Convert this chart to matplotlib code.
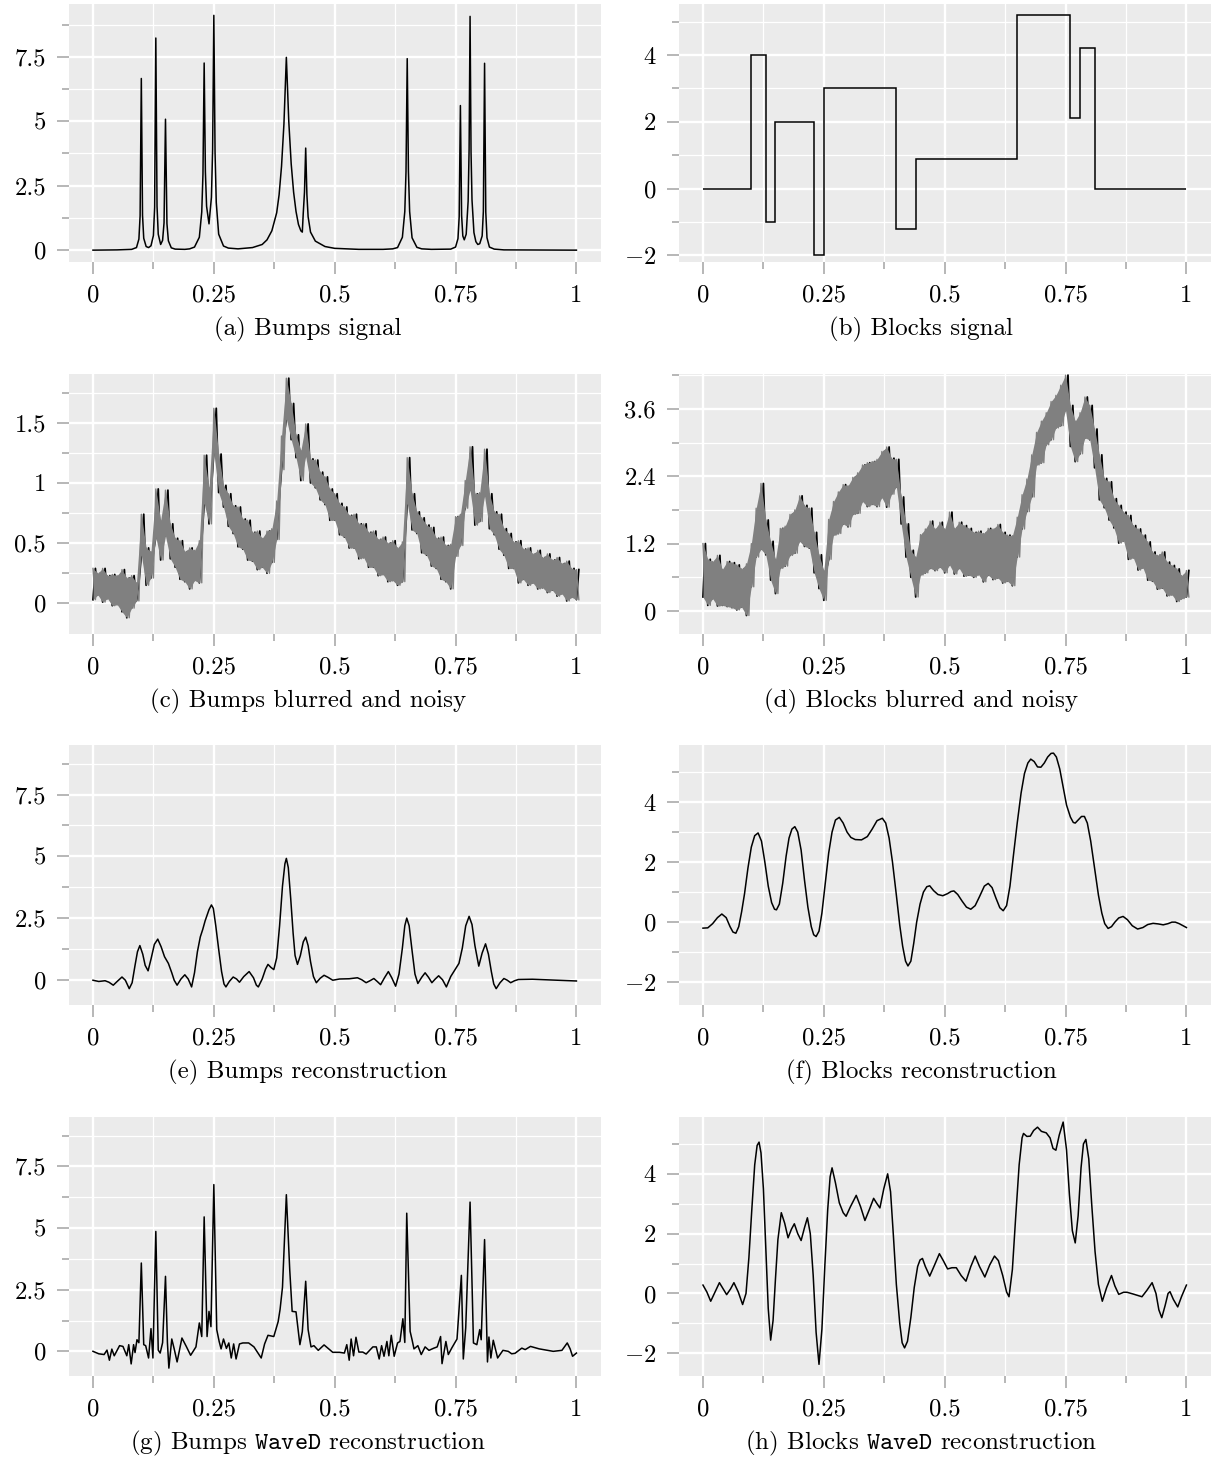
import numpy as np
import matplotlib
matplotlib.use('Agg')
import matplotlib.pyplot as plt

plt.rcParams['font.family'] = 'cmr10'
plt.rcParams['mathtext.fontset'] = 'cm'
plt.rcParams['axes.unicode_minus'] = False

# ---- (a) Bumps signal
a_x = [0.0, 0.05, 0.08, 0.09, 0.095, 0.0975, 0.1, 0.1025, 0.105, 0.11, 0.115, 0.12, 0.125, 0.1275,
       0.13, 0.1325, 0.135, 0.14, 0.144, 0.147, 0.15, 0.153, 0.156, 0.162, 0.17, 0.19, 0.2, 0.21,
       0.22, 0.225, 0.2275, 0.23, 0.2325, 0.235, 0.24, 0.245, 0.2475, 0.25, 0.2525, 0.255, 0.26,
       0.27, 0.28, 0.3, 0.33, 0.35, 0.36, 0.37, 0.38, 0.385, 0.39, 0.395, 0.4, 0.405, 0.41, 0.415,
       0.42, 0.425, 0.43, 0.433, 0.435, 0.4375, 0.44, 0.4425, 0.445, 0.45, 0.46, 0.48, 0.5, 0.55,
       0.6, 0.62, 0.63, 0.64, 0.645, 0.6475, 0.65, 0.6525, 0.655, 0.66, 0.67, 0.68, 0.7, 0.74, 0.75,
       0.755, 0.7575, 0.76, 0.7625, 0.765, 0.768, 0.772, 0.776, 0.778, 0.78, 0.782, 0.784, 0.788,
       0.792, 0.796, 0.8, 0.805, 0.8075, 0.81, 0.8125, 0.815, 0.82, 0.83, 0.85, 1.0]
a_y = [0.0, 0.01, 0.03, 0.1, 0.43, 1.33, 6.66, 1.35, 0.46, 0.14, 0.1, 0.17, 0.57, 1.66,
       8.23, 1.7, 0.62, 0.22, 0.38, 1.06, 5.08, 1.03, 0.36, 0.09, 0.04, 0.03, 0.05, 0.12,
       0.5, 1.48, 2.95, 7.26, 3.05, 1.7, 1.02, 2.05, 3.9, 9.11, 3.8, 1.85, 0.62,
       0.16, 0.08, 0.05, 0.1, 0.22, 0.4, 0.75, 1.45, 2.15, 3.25, 4.9, 7.48, 5.0, 3.35, 2.25,
       1.5, 1.0, 0.75, 0.7, 1.45, 2.25, 3.96, 2.15, 1.3, 0.7, 0.35, 0.14, 0.07, 0.03,
       0.03, 0.05, 0.1, 0.5, 1.5, 3.05, 7.43, 3.05, 1.5, 0.48, 0.11, 0.05, 0.03, 0.04, 0.12,
       0.45, 1.3, 5.61, 1.35, 0.55, 0.4, 0.62, 1.9, 3.9, 9.07, 3.8, 1.95, 0.68,
       0.33, 0.22, 0.25, 0.55, 1.5, 7.25, 1.47, 0.48, 0.12, 0.04, 0.01, 0.0]

# ---- (b) Blocks signal
b_edges = [0.0, 0.1, 0.13, 0.15, 0.23, 0.25, 0.4, 0.44, 0.65, 0.76, 0.78, 0.81, 1.0]
b_levels = [0.0, 4.0, -1.0, 2.0, -2.0, 3.0, -1.2, 0.9, 5.2, 2.1, 4.2, 0.0]

# ---- (c) Bumps blurred and noisy: band (x step 0.01)
c_lo = [0.03, 0.07, 0.01, 0.04, -0.02, -0.01, -0.07, -0.12, -0.04, 0.02,
        0.40, 0.15, 0.21, 0.55, 0.36, 0.56, 0.37, 0.30, 0.20, 0.18,
        0.12, 0.19, 0.17, 0.83, 0.66, 1.25, 0.92, 0.80, 0.64, 0.58,
        0.47, 0.45, 0.36, 0.35, 0.28, 0.30, 0.25, 0.34, 0.53, 1.11,
        1.53, 1.36, 1.21, 1.02, 1.22, 1.00, 0.96, 0.86, 0.82, 0.69,
        0.69, 0.57, 0.55, 0.46, 0.46, 0.37, 0.38, 0.30, 0.30, 0.23,
        0.24, 0.18, 0.19, 0.15, 0.18, 0.83, 0.61, 0.58, 0.42, 0.40,
        0.31, 0.29, 0.20, 0.18, 0.12, 0.39, 0.48, 0.79, 0.94, 0.65,
        0.68, 0.89, 0.62, 0.57, 0.45, 0.40, 0.29, 0.29, 0.17, 0.20,
        0.15, 0.17, 0.12, 0.13, 0.09, 0.11, 0.06, 0.08, 0.02, 0.05, 0.03]
c_hi = [0.29, 0.25, 0.29, 0.23, 0.24, 0.23, 0.28, 0.21, 0.23, 0.17,
        0.74, 0.46, 0.43, 0.95, 0.69, 0.94, 0.66, 0.54, 0.52, 0.43,
        0.46, 0.44, 0.52, 1.23, 0.96, 1.62, 1.24, 0.98, 0.91, 0.81,
        0.80, 0.70, 0.69, 0.59, 0.60, 0.54, 0.60, 0.62, 0.85, 1.39,
        1.87, 1.66, 1.40, 1.27, 1.49, 1.20, 1.19, 1.09, 1.05, 0.95,
        0.91, 0.83, 0.80, 0.73, 0.74, 0.66, 0.66, 0.59, 0.60, 0.53,
        0.55, 0.50, 0.52, 0.46, 0.51, 1.21, 0.91, 0.76, 0.71, 0.65,
        0.63, 0.54, 0.55, 0.48, 0.49, 0.72, 0.74, 1.02, 1.30, 0.91,
        0.92, 1.28, 0.91, 0.76, 0.74, 0.62, 0.58, 0.51, 0.52, 0.45,
        0.46, 0.41, 0.44, 0.38, 0.41, 0.36, 0.38, 0.33, 0.35, 0.29, 0.28]

# ---- (d) Blocks blurred and noisy (x step 0.01)
d_lo = [0.25, 0.10, 0.22, 0.09, 0.10, 0.08, 0.06, 0.02, 0.07, -0.08,
        0.43, 0.96, 1.10, 1.00, 0.55, 0.31, 0.76, 0.80, 0.99, 1.03,
        1.24, 1.15, 1.12, 0.68, 0.40, 0.19, 0.92, 1.35, 1.38, 1.55,
        1.50, 1.72, 1.74, 1.95, 1.86, 1.90, 1.86, 2.02, 1.85, 2.08,
        2.21, 1.55, 0.96, 0.60, 0.25, 0.64, 0.68, 0.76, 0.72, 0.78,
        0.68, 0.82, 0.66, 0.76, 0.62, 0.64, 0.60, 0.65, 0.52, 0.64,
        0.56, 0.59, 0.50, 0.53, 0.45, 0.96, 1.46, 1.77, 2.03, 2.60,
        2.64, 2.96, 3.05, 3.26, 3.30, 3.57, 2.93, 2.66, 2.80, 3.08,
        3.05, 2.55, 1.98, 1.84, 1.62, 1.48, 1.21, 1.25, 0.92, 0.95,
        0.73, 0.77, 0.55, 0.53, 0.39, 0.41, 0.27, 0.29, 0.17, 0.22, 0.25]
d_hi = [1.20, 0.92, 0.88, 0.99, 0.74, 0.88, 0.86, 0.82, 0.75, 0.84,
        1.20, 1.83, 2.27, 1.62, 1.24, 0.92, 1.47, 1.51, 1.72, 1.80,
        2.05, 1.88, 1.83, 1.40, 1.00, 0.72, 1.63, 1.95, 2.12, 2.25,
        2.23, 2.38, 2.46, 2.60, 2.64, 2.66, 2.70, 2.84, 2.92, 2.72,
        2.70, 2.03, 1.55, 1.08, 0.96, 1.36, 1.46, 1.60, 1.46, 1.58,
        1.46, 1.76, 1.47, 1.58, 1.52, 1.47, 1.40, 1.42, 1.38, 1.47,
        1.46, 1.54, 1.40, 1.35, 1.34, 1.67, 2.07, 2.35, 2.78, 3.18,
        3.38, 3.53, 3.73, 3.84, 4.02, 4.20, 3.66, 3.38, 3.53, 3.81,
        3.66, 3.24, 2.78, 2.36, 2.30, 2.00, 1.88, 1.76, 1.70, 1.52,
        1.46, 1.35, 1.23, 1.05, 0.99, 1.05, 0.87, 0.81, 0.75, 0.63, 0.72]

# ---- (e) Bumps reconstruction
e_x = [0.0, 0.012, 0.025, 0.033, 0.042, 0.05, 0.06, 0.067, 0.075, 0.081, 0.087, 0.092, 0.097,
       0.103, 0.108, 0.114, 0.12, 0.127, 0.134, 0.141, 0.148, 0.156, 0.163, 0.168, 0.174, 0.182,
       0.19, 0.197, 0.204, 0.21, 0.216, 0.222, 0.227, 0.232, 0.24, 0.245, 0.249, 0.254, 0.26,
       0.266, 0.271, 0.275, 0.282, 0.29, 0.297, 0.303, 0.312, 0.323, 0.332, 0.338, 0.342, 0.35,
       0.357, 0.362, 0.368, 0.374, 0.38, 0.386, 0.392, 0.397, 0.4, 0.404, 0.409, 0.414, 0.418,
       0.423, 0.429, 0.435, 0.44, 0.445, 0.45, 0.456, 0.462, 0.47, 0.478, 0.486, 0.496, 0.51,
       0.53, 0.547, 0.556, 0.565, 0.573, 0.581, 0.588, 0.595, 0.603, 0.611, 0.618, 0.626, 0.633,
       0.64, 0.645, 0.649, 0.654, 0.66, 0.666, 0.672, 0.68, 0.687, 0.694, 0.701, 0.708, 0.715,
       0.723, 0.731, 0.74, 0.748, 0.757, 0.764, 0.771, 0.778, 0.784, 0.79, 0.798, 0.805, 0.812,
       0.818, 0.824, 0.829, 0.834, 0.842, 0.85, 0.857, 0.864, 0.872, 0.88, 0.909, 0.95, 1.0]
e_y = [0.0, -0.05, -0.02, -0.08, -0.2, -0.05, 0.13, 0.0, -0.34, -0.1, 0.6, 1.15, 1.4,
       1.05, 0.6, 0.38, 0.85, 1.45, 1.66, 1.35, 0.95, 0.68, 0.3, 0.0, -0.2, 0.05,
       0.22, 0.05, -0.27, 0.3, 1.15, 1.75, 2.05, 2.4, 2.85, 3.04, 2.9, 2.2, 1.25,
       0.35, -0.15, -0.27, -0.05, 0.13, 0.05, -0.08, 0.15, 0.35, 0.1, -0.2, -0.27, 0.05,
       0.45, 0.64, 0.52, 0.43, 0.9, 2.2, 3.8, 4.7, 4.92, 4.55, 3.3, 1.9, 1.0,
       0.64, 1.0, 1.55, 1.74, 1.4, 0.75, 0.15, -0.1, 0.08, 0.2, 0.12, 0.0, 0.05,
       0.06, 0.1, 0.02, -0.1, -0.02, 0.07, -0.05, -0.18, 0.1, 0.35, 0.1, -0.24, 0.25,
       1.3, 2.2, 2.51, 2.2, 1.2, 0.25, -0.13, 0.12, 0.3, 0.12, -0.1, 0.05, 0.18,
       0.02, -0.27, 0.15, 0.4, 0.68, 1.3, 2.2, 2.58, 2.25, 1.4, 0.57, 1.1, 1.47,
       1.05, 0.35, -0.15, -0.34, -0.1, 0.07, 0.0, -0.1, -0.02, 0.03, 0.04, 0.01, -0.03]

# ---- (f) Blocks reconstruction
f_x = [0.0, 0.01, 0.02, 0.03, 0.039, 0.048, 0.056, 0.062, 0.068, 0.074, 0.08, 0.086, 0.093,
       0.1, 0.107, 0.114, 0.121, 0.128, 0.135, 0.142, 0.148, 0.152, 0.158, 0.165, 0.172, 0.178,
       0.184, 0.19, 0.196, 0.203, 0.21, 0.217, 0.224, 0.229, 0.234, 0.24, 0.246, 0.253, 0.26,
       0.267, 0.274, 0.282, 0.29, 0.298, 0.306, 0.315, 0.328, 0.34, 0.35, 0.36, 0.371, 0.378,
       0.385, 0.392, 0.4, 0.407, 0.413, 0.419, 0.424, 0.43, 0.436, 0.442, 0.449, 0.456, 0.463,
       0.469, 0.477, 0.486, 0.496, 0.506, 0.513, 0.519, 0.527, 0.536, 0.545, 0.554, 0.563, 0.572,
       0.582, 0.59, 0.598, 0.606, 0.614, 0.621, 0.628, 0.635, 0.642, 0.65, 0.658, 0.665, 0.672,
       0.678, 0.685, 0.692, 0.699, 0.706, 0.713, 0.72, 0.725, 0.731, 0.738, 0.745, 0.752, 0.76,
       0.766, 0.77, 0.777, 0.783, 0.789, 0.795, 0.802, 0.81, 0.818, 0.825, 0.831, 0.838, 0.845,
       0.852, 0.86, 0.869, 0.878, 0.888, 0.899, 0.91, 0.92, 0.931, 0.942, 0.952, 0.962, 0.97,
       0.977, 0.985, 0.993, 1.0]
f_y = [-0.2, -0.19, -0.05, 0.15, 0.27, 0.15, -0.15, -0.33, -0.37, -0.15, 0.35, 0.95, 1.8,
       2.5, 2.88, 2.97, 2.7, 2.0, 1.2, 0.65, 0.43, 0.41, 0.6, 1.3, 2.2, 2.8,
       3.1, 3.18, 3.0, 2.4, 1.4, 0.5, -0.15, -0.42, -0.48, -0.3, 0.3, 1.3, 2.3,
       3.0, 3.4, 3.49, 3.3, 3.0, 2.82, 2.75, 2.74, 2.85, 3.1, 3.38, 3.46, 3.3,
       2.8, 2.0, 0.9, -0.1, -0.8, -1.3, -1.46, -1.3, -0.7, 0.0, 0.6, 1.0, 1.18,
       1.21, 1.05, 0.92, 0.88, 0.95, 1.02, 1.04, 0.92, 0.7, 0.5, 0.43, 0.55, 0.85,
       1.2, 1.29, 1.15, 0.8, 0.48, 0.38, 0.55, 1.2, 2.2, 3.3, 4.3, 4.95, 5.3,
       5.43, 5.35, 5.17, 5.16, 5.3, 5.5, 5.62, 5.63, 5.5, 5.1, 4.5, 3.9, 3.5,
       3.32, 3.3, 3.42, 3.52, 3.52, 3.3, 2.7, 1.8, 0.9, 0.3, -0.05, -0.21, -0.15,
       0.0, 0.14, 0.19, 0.08, -0.12, -0.23, -0.18, -0.08, -0.04, -0.06, -0.09, -0.05, 0.0,
       0.0, -0.05, -0.12, -0.18]

# ---- (g) Bumps WaveD reconstruction
g_x = [0.0, 0.012, 0.023, 0.029, 0.034, 0.039, 0.044, 0.055, 0.062, 0.07, 0.074, 0.079, 0.084,
       0.087, 0.091, 0.095, 0.1, 0.105, 0.109, 0.115, 0.12, 0.124, 0.13, 0.135, 0.139, 0.144,
       0.15, 0.154, 0.157, 0.163, 0.168, 0.174, 0.184, 0.193, 0.202, 0.213, 0.22, 0.225, 0.23,
       0.236, 0.24, 0.244, 0.25, 0.256, 0.261, 0.265, 0.27, 0.276, 0.281, 0.286, 0.291, 0.296,
       0.303, 0.31, 0.322, 0.333, 0.348, 0.355, 0.362, 0.374, 0.383, 0.387, 0.392, 0.4, 0.407,
       0.412, 0.42, 0.428, 0.433, 0.44, 0.445, 0.451, 0.457, 0.466, 0.478, 0.496, 0.51, 0.52,
       0.525, 0.53, 0.534, 0.539, 0.544, 0.55, 0.558, 0.565, 0.579, 0.586, 0.592, 0.597, 0.602,
       0.608, 0.612, 0.617, 0.623, 0.63, 0.635, 0.641, 0.645, 0.649, 0.656, 0.66, 0.664, 0.672,
       0.679, 0.687, 0.695, 0.704, 0.712, 0.719, 0.722, 0.73, 0.735, 0.742, 0.753, 0.762, 0.766,
       0.771, 0.78, 0.787, 0.794, 0.8, 0.803, 0.81, 0.816, 0.819, 0.823, 0.828, 0.837, 0.848,
       0.859, 0.866, 0.873, 0.887, 0.894, 0.905, 0.923, 0.952, 0.97, 0.981, 0.987, 0.992, 1.0]
g_y = [0.0, -0.1, -0.13, 0.05, -0.36, 0.09, -0.18, 0.23, 0.2, -0.18, 0.27, -0.51, 0.27,
       -0.05, 0.47, 0.35, 3.58, 0.27, 0.23, -0.27, 0.92, -0.27, 4.86, 0.05, -0.07, 0.35,
       3.04, 0.35, -0.68, 0.5, 0.1, -0.43, 0.54, 0.2, -0.16, 0.18, 1.15, 0.6, 5.45,
       0.6, 1.62, 1.0, 6.76, 0.88, 0.4, 0.1, 0.5, 0.12, 0.34, -0.27, 0.3, -0.31,
       0.3, 0.34, 0.34, 0.18, -0.27, 0.3, 0.65, 0.6, 1.2, 1.7, 2.6, 6.35, 3.3,
       1.62, 1.6, 0.27, 0.8, 2.84, 0.88, 0.18, 0.23, 0.04, 0.26, -0.04, -0.04, -0.07,
       0.27, -0.36, 0.5, -0.18, 0.57, -0.03, -0.03, -0.11, 0.18, 0.18, -0.31, 0.23, -0.2,
       0.4, -0.18, 0.65, -0.2, 0.34, 0.4, 1.32, 0.36, 5.6, 0.81, 0.47, 0.1, 0.23,
       -0.13, 0.18, 0.04, 0.12, 0.18, 0.6, -0.5, 0.4, -0.13, 0.13, 0.5, 3.08, -0.31,
       0.95, 6.05, 0.34, 0.27, 0.88, 0.47, 4.53, -0.43, 0.58, -0.27, 0.45, -0.27, 0.04,
       0.0, -0.1, -0.08, 0.13, 0.07, 0.2, 0.1, 0.0, 0.04, 0.34, 0.1, -0.2, -0.07]

# ---- (h) Blocks WaveD reconstruction
h_x = [0.0, 0.008, 0.016, 0.025, 0.034, 0.042, 0.049, 0.057, 0.064, 0.073, 0.082, 0.089, 0.095,
       0.101, 0.107, 0.112, 0.116, 0.12, 0.125, 0.13, 0.135, 0.14, 0.145, 0.15, 0.155, 0.162,
       0.169, 0.176, 0.183, 0.189, 0.196, 0.203, 0.21, 0.216, 0.222, 0.228, 0.234, 0.24, 0.246,
       0.252, 0.258, 0.263, 0.267, 0.274, 0.282, 0.29, 0.296, 0.305, 0.317, 0.326, 0.335, 0.344,
       0.353, 0.36, 0.366, 0.374, 0.382, 0.388, 0.394, 0.4, 0.407, 0.412, 0.417, 0.423, 0.43,
       0.437, 0.444, 0.449, 0.454, 0.46, 0.469, 0.479, 0.489, 0.497, 0.506, 0.515, 0.524, 0.534,
       0.544, 0.554, 0.563, 0.572, 0.583, 0.593, 0.603, 0.611, 0.62, 0.628, 0.633, 0.64, 0.647,
       0.654, 0.66, 0.663, 0.67, 0.677, 0.684, 0.692, 0.7, 0.71, 0.718, 0.724, 0.73, 0.737,
       0.745, 0.752, 0.758, 0.764, 0.77, 0.776, 0.782, 0.787, 0.792, 0.798, 0.804, 0.811, 0.818,
       0.826, 0.835, 0.845, 0.852, 0.86, 0.87, 0.877, 0.89, 0.908, 0.918, 0.929, 0.937, 0.943,
       0.949, 0.956, 0.962, 0.966, 0.973, 0.982, 0.99, 1.0]
h_y = [0.28, 0.05, -0.26, 0.05, 0.36, 0.15, -0.04, 0.15, 0.36, 0.05, -0.37, 0.0, 1.2,
       2.8, 4.3, 4.95, 5.06, 4.7, 3.5, 1.5, -0.5, -1.56, -0.9, 0.5, 1.8, 2.7,
       2.35, 1.86, 2.15, 2.33, 2.0, 1.77, 2.2, 2.53, 2.0, 0.6, -1.3, -2.37, -1.2,
       0.9, 2.8, 3.9, 4.2, 3.7, 3.03, 2.7, 2.58, 2.9, 3.28, 2.9, 2.44, 2.8,
       3.18, 3.0, 2.86, 3.5, 4.0, 3.4, 1.9, 0.3, -1.0, -1.65, -1.82, -1.6, -0.8,
       0.2, 0.9, 1.12, 1.17, 0.9, 0.58, 0.95, 1.33, 1.1, 0.82, 0.86, 0.86, 0.6,
       0.41, 0.9, 1.25, 0.9, 0.55, 0.95, 1.25, 1.1, 0.6, 0.05, -0.11, 0.8, 2.6,
       4.3, 5.2, 5.35, 5.25, 5.26, 5.45, 5.56, 5.42, 5.37, 5.2, 4.85, 4.79, 5.3,
       5.73, 4.8, 3.3, 2.1, 1.69, 2.6, 4.2, 5.0, 5.15, 4.5, 3.0, 1.4, 0.3,
       -0.26, 0.2, 0.6, 0.25, -0.03, 0.04, 0.04, -0.02, -0.11, 0.1, 0.36, 0.0, -0.55,
       -0.81, -0.4, 0.0, 0.06, -0.2, -0.45, -0.1, 0.28]

x_grid = np.linspace(0, 1, 101)
x_major = [0, 0.25, 0.5, 0.75, 1]
x_minor = [0.125, 0.375, 0.625, 0.875]
x_labels = ['0', '0.25', '0.5', '0.75', '1']

captions = ['(a) Bumps signal', '(b) Blocks signal',
            '(c) Bumps blurred and noisy', '(d) Blocks blurred and noisy',
            '(e) Bumps reconstruction', '(f) Blocks reconstruction',
            r'(g) Bumps $\mathtt{WaveD}$ reconstruction', r'(h) Blocks $\mathtt{WaveD}$ reconstruction']

bumps_ticks = ([0, 2.5, 5, 7.5], [1.25, 3.75, 6.25, 8.75], ['0', '2.5', '5', '7.5'])
blocks_ticks = ([-2, 0, 2, 4], [-1, 1, 3, 5], ['$-2$', '0', '2', '4'])

W, H = 1212, 1460
fig = plt.figure(figsize=(W / 100, H / 100), dpi=100)

col_left = [68.8, 678.8]
col_w = 531.8
cap_x = [308, 921]
rows = [(4, 262), (374, 634), (745, 1005), (1117, 1376)]


def make_ax(r, c):
    top, bot = rows[r]
    return fig.add_axes([col_left[c] / W, 1 - bot / H, col_w / W, (bot - top) / H])


def style(ax, ylim, ticks):
    ax.set_facecolor('#ebebeb')
    for s in ax.spines.values():
        s.set_visible(False)
    ax.set_xlim(-0.05, 1.05)
    ax.set_ylim(*ylim)
    ax.set_xticks(x_major)
    ax.set_xticklabels(x_labels)
    ax.set_xticks(x_minor, minor=True)
    ax.set_yticks(ticks[0])
    ax.set_yticklabels(ticks[2])
    ax.set_yticks(ticks[1], minor=True)
    ax.grid(which='major', color='white', lw=1.7)
    ax.grid(which='minor', color='white', lw=0.9)
    ax.set_axisbelow(True)
    ax.tick_params(which='major', length=8.4, width=1.1, color='#a3a3a3', pad=8, labelsize=17.8)
    ax.tick_params(which='minor', length=5.3, width=1.1, color='#a3a3a3')


def zigzag(x, first, second):
    xs = np.empty(2 * len(x))
    ys = np.empty(2 * len(x))
    xs[0::2] = x
    xs[1::2] = x + 0.005
    ys[0::2] = first
    ys[1::2] = second
    return xs, ys


def noisy(ax, lo, hi):
    # black series underneath, grey series on top
    xs, ys = zigzag(x_grid, lo, hi)
    ax.plot(xs, ys, color='black', lw=1.3, zorder=2)
    ax.fill_between(x_grid, lo, hi, color='#808080', lw=0, zorder=3)
    xs, ys = zigzag(x_grid, hi, lo)
    ax.plot(xs, ys, color='#808080', lw=1.0, zorder=4)


ax = make_ax(0, 0)
ax.plot(a_x, a_y, color='black', lw=1.1)
style(ax, (-0.46, 9.55), bumps_ticks)

ax = make_ax(0, 1)
ax.stairs(b_levels, b_edges, baseline=None, color='black', lw=1.1)
style(ax, (-2.2, 5.53), blocks_ticks)

ax = make_ax(1, 0)
noisy(ax, c_lo, c_hi)
style(ax, (-0.255, 1.905), ([0, 0.5, 1, 1.5], [0.25, 0.75, 1.25, 1.75], ['0', '0.5', '1', '1.5']))

ax = make_ax(1, 1)
noisy(ax, d_lo, d_hi)
style(ax, (-0.41, 4.22), ([0, 1.2, 2.4, 3.6], [0.6, 1.8, 3.0, 4.2], ['0', '1.2', '2.4', '3.6']))

ax = make_ax(2, 0)
ax.plot(e_x, e_y, color='black', lw=1.1)
style(ax, (-1.0, 9.5), bumps_ticks)

ax = make_ax(2, 1)
ax.plot(f_x, f_y, color='black', lw=1.1)
style(ax, (-2.76, 5.9), blocks_ticks)

ax = make_ax(3, 0)
ax.plot(g_x, g_y, color='black', lw=1.1)
style(ax, (-1.0, 9.5), bumps_ticks)

ax = make_ax(3, 1)
ax.plot(h_x, h_y, color='black', lw=1.1)
style(ax, (-2.76, 5.9), blocks_ticks)

for i, cap in enumerate(captions):
    r, c = divmod(i, 2)
    yc = 1 - (rows[r][1] + 67) / H
    fig.text(cap_x[c] / W, yc, cap, ha='center', va='center', fontsize=18)

fig.savefig('out.png', dpi=100)
